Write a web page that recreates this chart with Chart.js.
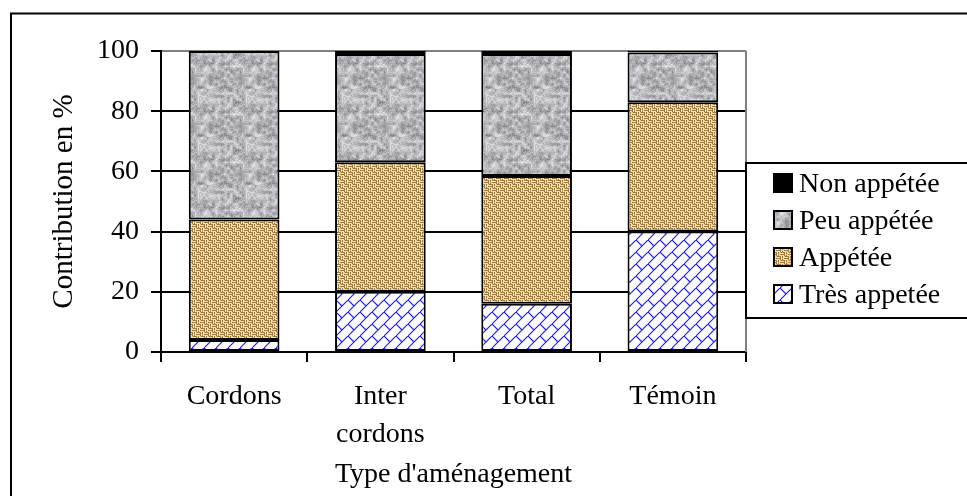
<!DOCTYPE html>
<html>
<head>
<meta charset="utf-8">
<script src="https://cdn.jsdelivr.net/npm/chart.js@4.4.1/dist/chart.umd.min.js"></script>
<style>
  html, body { margin: 0; padding: 0; background: #fff; }
  #wrap { width: 967px; height: 496px; }
</style>
</head>
<body>
<div id="wrap"><canvas id="chart" width="967" height="496"></canvas></div>
<script>
// values (percent of contribution)
const categories = ['Cordons', ['Inter', 'cordons'], 'Total', 'Témoin'];
const tresAppetee = [4, 20, 16, 40];
const appetee = [40, 43, 42.5, 43];
const peuAppetee = [56, 36, 40.5, 16.5];
const nonAppetee = [0, 1, 1, 0.5];
const yTicks = [0, 20, 40, 60, 80, 100];

const FONT = "'Liberation Serif', 'Times New Roman', serif";

// deterministic hash for textures
function hash(x, y) {
  const h = Math.sin(x * 127.1 + y * 311.7) * 43758.5453;
  return h - Math.floor(h);
}

function makeTile(w, h, draw) {
  const c = document.createElement('canvas');
  c.width = w; c.height = h;
  draw(c.getContext('2d'), w, h);
  return c;
}

// blue diagonal brick on white
const brickTile = makeTile(12, 12, (g, w, h) => {
  g.fillStyle = '#fff';
  g.fillRect(0, 0, w, h);
  g.strokeStyle = '#1f1fff';
  g.lineWidth = 1.2;
  g.beginPath();
  g.moveTo(-1, 13); g.lineTo(13, -1);
  g.moveTo(0, 0); g.lineTo(6, 6);
  g.stroke();
});

// tan woven texture
const wovenTile = makeTile(8, 8, (g, w, h) => {
  g.fillStyle = '#9a7a40';
  g.fillRect(0, 0, w, h);
  g.fillStyle = '#f3e1a6';
  for (let cy = 0; cy < 2; cy++) {
    for (let cx = 0; cx < 2; cx++) {
      const ox = cx * 4, oy = cy * 4;
      if ((cx + cy) % 2 === 0) {
        g.fillRect(ox, oy + 1, 4, 1);
        g.fillRect(ox, oy + 3, 4, 1);
      } else {
        g.fillRect(ox + 1, oy, 1, 4);
        g.fillRect(ox + 3, oy, 1, 4);
      }
    }
  }
  g.fillStyle = '#d6bb7c';
  g.fillRect(0, 0, 1, 1); g.fillRect(4, 4, 1, 1);
  g.fillRect(2, 6, 1, 1); g.fillRect(6, 2, 1, 1);
});

// gray granite texture
const graniteTile = makeTile(48, 48, (g, w, h) => {
  const img = g.createImageData(w, h);
  const cell = 3;
  const n = w / cell;
  function coarse(i, j) { return hash(((i % n) + n) % n, ((j % n) + n) % n); }
  for (let y = 0; y < h; y++) {
    for (let x = 0; x < w; x++) {
      const fx = x / cell, fy = y / cell;
      const i = Math.floor(fx), j = Math.floor(fy);
      const tx = fx - i, ty = fy - j;
      const v = coarse(i, j) * (1 - tx) * (1 - ty) + coarse(i + 1, j) * tx * (1 - ty) +
                coarse(i, j + 1) * (1 - tx) * ty + coarse(i + 1, j + 1) * tx * ty;
      const f = hash(x + 0.5, y + 0.25);
      const t = 0.7 * v + 0.3 * f;
      const c = 120 + t * 120;
      const k = (y * w + x) * 4;
      img.data[k] = c; img.data[k + 1] = c; img.data[k + 2] = c + 5; img.data[k + 3] = 255;
    }
  }
  g.putImageData(img, 0, 0);
});

const cv = document.getElementById('chart');
const ctx = cv.getContext('2d');
const brickFill = ctx.createPattern(brickTile, 'repeat');
const wovenFill = ctx.createPattern(wovenTile, 'repeat');
const graniteFill = ctx.createPattern(graniteTile, 'repeat');

const decor = {
  id: 'decor',
  beforeDraw(chart) {
    const g = chart.ctx;
    g.save();
    g.fillStyle = '#fff';
    g.fillRect(0, 0, chart.width, chart.height);
    g.restore();
  },
  afterDraw(chart) {
    const g = chart.ctx;
    const a = chart.chartArea;
    g.save();
    // outer frame (cut at right and bottom)
    g.strokeStyle = '#000';
    g.lineWidth = 2;
    g.strokeRect(11, 13.5, chart.width + 20, chart.height + 20);

    // plot area right border
    g.strokeStyle = '#808080';
    g.beginPath();
    g.moveTo(a.right, a.top);
    g.lineTo(a.right, a.bottom);
    g.stroke();

    // legend
    const lx = a.right, ly = 163;
    g.fillStyle = '#fff';
    g.fillRect(lx, ly, chart.width, 155);
    g.strokeStyle = '#000';
    g.lineWidth = 2;
    g.strokeRect(lx, ly, chart.width, 155);
    g.font = '28px ' + FONT;
    g.textBaseline = 'middle';
    g.textAlign = 'left';
    const items = chart.data.datasets.slice().reverse();
    items.forEach((ds, i) => {
      const cy = 185 + i * 37;
      g.fillStyle = ds.backgroundColor;
      g.fillRect(774, cy - 11, 18, 18);
      g.strokeStyle = '#000';
      g.lineWidth = 2;
      g.strokeRect(774, cy - 11, 18, 18);
      g.fillStyle = '#000';
      g.fillText(ds.label, 799, cy);
    });

    // axis titles
    g.fillStyle = '#000';
    g.textAlign = 'center';
    g.fillText("Type d'aménagement", (a.left + a.right) / 2, 475);
    g.translate(64, (a.top + a.bottom) / 2);
    g.rotate(-Math.PI / 2);
    g.font = '29px ' + FONT;
    g.fillText('Contribution en %', 0, 0);
    g.restore();
  }
};

const barStyle = {
  borderColor: '#000',
  borderWidth: 2,
  borderSkipped: false,
  barPercentage: 0.62,
  categoryPercentage: 1.0
};

new Chart(ctx, {
  type: 'bar',
  data: {
    labels: categories,
    datasets: [
      Object.assign({ label: 'Très appetée', data: tresAppetee, backgroundColor: brickFill }, barStyle),
      Object.assign({ label: 'Appétée', data: appetee, backgroundColor: wovenFill }, barStyle),
      Object.assign({ label: 'Peu appétée', data: peuAppetee, backgroundColor: graniteFill }, barStyle),
      Object.assign({ label: 'Non appétée', data: nonAppetee, backgroundColor: '#000' }, barStyle)
    ]
  },
  options: {
    responsive: false,
    animation: false,
    layout: { padding: { top: 51, right: 221, left: 0, bottom: 0 } },
    plugins: {
      legend: { display: false },
      tooltip: { enabled: false }
    },
    scales: {
      x: {
        stacked: true,
        afterFit: s => { s.height = 144; },
        grid: {
          display: true,
          drawOnChartArea: false,
          drawTicks: true,
          tickLength: 10,
          color: '#000',
          lineWidth: 2,
          offset: true
        },
        border: { color: '#000', width: 2 },
        ticks: {
          color: '#000',
          padding: 16,
          maxRotation: 0,
          autoSkip: false,
          font: { family: FONT, size: 28, lineHeight: 1.36 }
        }
      },
      y: {
        stacked: true,
        min: 0,
        max: 100,
        afterFit: s => { s.width = 161; },
        afterBuildTicks: s => { s.ticks = yTicks.map(v => ({ value: v })); },
        grid: {
          color: c => (c.tick && c.tick.value === 100 ? '#808080' : '#000'),
          lineWidth: 2,
          drawTicks: true,
          tickLength: 10,
          tickColor: '#000'
        },
        border: { color: '#000', width: 2 },
        ticks: {
          color: '#000',
          padding: 12,
          font: { family: FONT, size: 28 }
        }
      }
    }
  },
  plugins: [decor]
});
</script>
</body>
</html>
